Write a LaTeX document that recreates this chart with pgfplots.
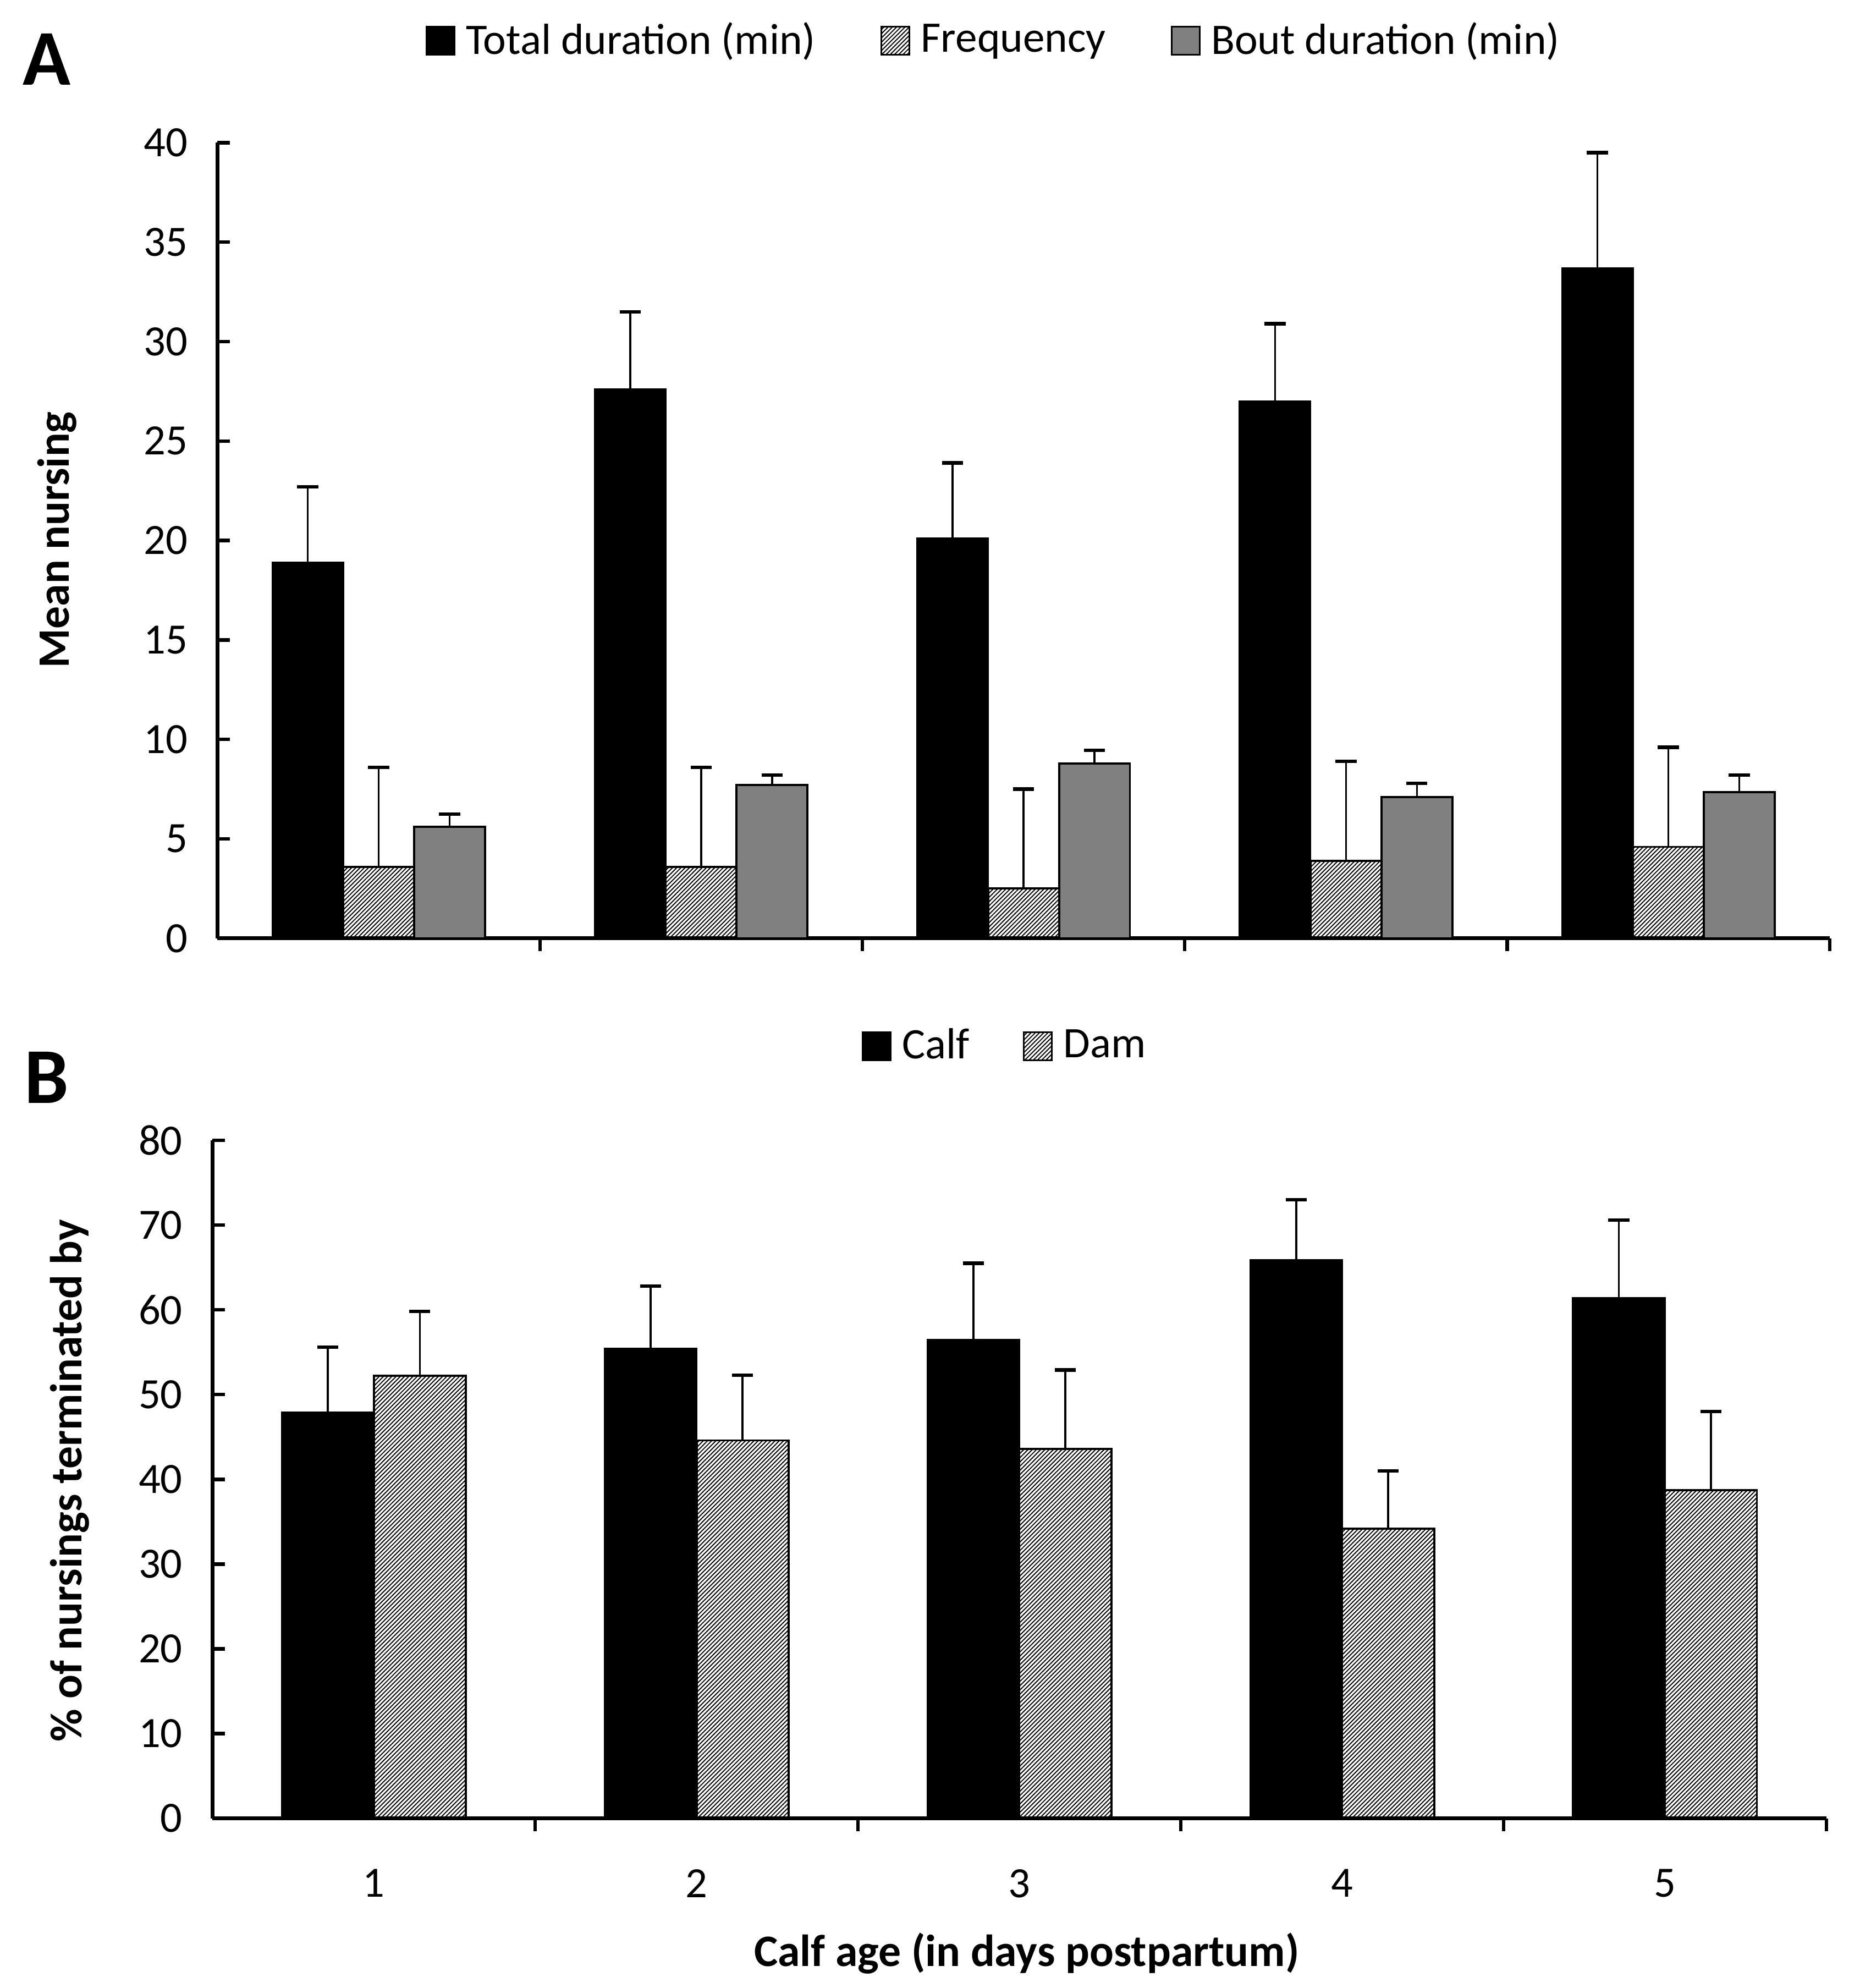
\documentclass[border=0pt]{standalone}
\usepackage{pgfplots}
\pgfplotsset{compat=1.18}
\usepackage{fontspec}
\setmainfont{Carlito}
\usetikzlibrary{patterns.meta}
\definecolor{bargray}{RGB}{128,128,128}
\tikzset{hatch/.style={pattern={Lines[angle=45,distance=0.85pt,line width=0.3pt]},pattern color=black}}
\pgfplotsset{
  panel/.style={
    scale only axis, anchor=south west,
    axis x line=bottom, axis y line=left,
    axis line style={-, line width=1.1pt},
    tick align=inside, major tick length=3.6pt,
    tick style={line width=1pt, black},
    xmin=0.5, xmax=5.5,
    xtick={1.5,2.5,3.5,4.5,5.5}, xticklabels={},
    ybar, clip=false,
    /pgf/number format/assume math mode=true,
    tick label style={font=\fontsize{12.3}{14}\selectfont},
    yticklabel style={xshift=-5pt},
    error bars/y dir=plus, error bars/y explicit,
    error bars/error bar style={line width=0.55pt, black, solid},
    error bars/error mark options={black, line width=1pt, mark size=3pt, rotate=90},
    legend columns=-1,
    legend style={draw=none, fill=none, font=\fontsize{12.4}{14}\selectfont, anchor=center,
      /tikz/every odd column/.append style={column sep=1pt}},
    legend image code/.code={\draw[#1, line width=0.5pt] (0pt,-4pt) rectangle (8pt,4pt);},
  }
}
\begin{document}
\begin{tikzpicture}
\path[use as bounding box] (0,0) rectangle (526.3pt,-565.9pt);
% Panel A
\begin{axis}[panel,
  at={(61.92pt,-267.1pt)}, width=459pt, height=226.5pt,
  ymin=0, ymax=40, ytick={0,5,...,40},
  legend style={at={(rel axis cs:0.483,1.128)},
    /tikz/every even column/.append style={column sep=16.5pt}},
]
\addplot[fill=black, draw=black, line width=0.5pt, bar width=0.22, bar shift=-0.22]
  table[x=x, y=y, y error=e] {
x y e
1 18.9 3.8
2 27.6 3.9
3 20.1 3.8
4 27.0 3.9
5 33.7 5.8
};
\addlegendentry{Total duration (min)}
\addplot[hatch, draw=black, line width=0.6pt, bar width=0.22, bar shift=0]
  table[x=x, y=y, y error=e] {
x y e
1 3.6 5.0
2 3.6 5.0
3 2.5 5.0
4 3.9 5.0
5 4.6 5.0
};
\addlegendentry{Frequency}
\addplot[fill=bargray, draw=black, line width=0.6pt, bar width=0.22, bar shift=0.22]
  table[x=x, y=y, y error=e] {
x y e
1 5.6 0.65
2 7.7 0.5
3 8.8 0.65
4 7.1 0.7
5 7.35 0.85
};
\addlegendentry{Bout duration (min)}
\end{axis}
% Panel B
\begin{axis}[panel,
  at={(60.48pt,-517.6pt)}, width=459.5pt, height=193pt,
  ymin=0, ymax=80, ytick={0,10,...,80},
  extra x ticks={1,2,3,4,5},
  extra x tick style={major tick length=0pt, xticklabel style={yshift=-11pt}},
  extra x tick labels={1,2,3,4,5},
  legend style={at={(rel axis cs:0.4925,1.139)},
    /tikz/every even column/.append style={column sep=13.3pt}},
]
\addplot[fill=black, draw=black, line width=0.5pt, bar width=0.285, bar shift=-0.1425]
  table[x=x, y=y, y error=e] {
x y e
1 47.9 7.7
2 55.4 7.4
3 56.5 9.0
4 65.9 7.1
5 61.4 9.2
};
\addlegendentry{Calf}
\addplot[hatch, draw=black, line width=0.6pt, bar width=0.285, bar shift=0.1425]
  table[x=x, y=y, y error=e] {
x y e
1 52.2 7.6
2 44.6 7.7
3 43.6 9.3
4 34.2 6.8
5 38.7 9.3
};
\addlegendentry{Dam}
\end{axis}
\node[font=\bfseries\fontsize{22.5}{26}\selectfont] at (13.3pt,-16.9pt) {A};
\node[font=\bfseries\fontsize{22.5}{26}\selectfont] at (13.3pt,-306.7pt) {B};
\node[rotate=90, font=\bfseries\fontsize{12.8}{15}\selectfont] at (16.2pt,-153.7pt) {Mean nursing};
\node[rotate=90, font=\bfseries\fontsize{12.8}{15}\selectfont] at (19.8pt,-421.5pt) {\% of nursings terminated by};
\node[font=\bfseries\fontsize{12.8}{15}\selectfont] at (292.3pt,-556pt) {Calf age (in days postpartum)};
\end{tikzpicture}
\end{document}
